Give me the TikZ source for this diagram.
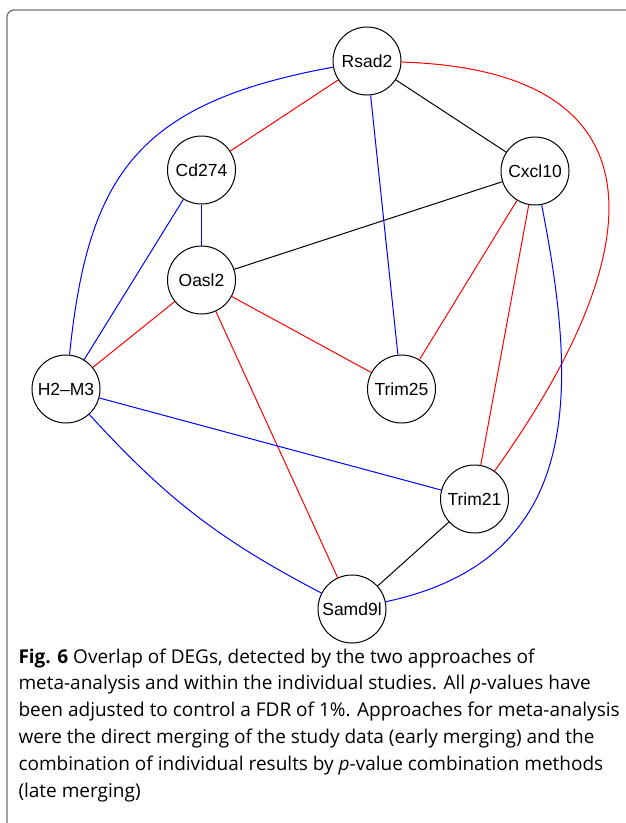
\documentclass[tikz,border=0pt]{standalone}
\usepackage{fontspec}
\setmainfont{Open Sans}
\newfontfamily\genefont{Liberation Sans}

\begin{document}
\begin{tikzpicture}[x=1pt, y=-1pt, line width=1pt,
    gene/.style={circle, draw=black, fill=white, minimum size=68pt, inner sep=0pt, font=\genefont\fontsize{17.5}{20}\selectfont},
    boxline/.style={draw=black!55, line width=1.3pt, rounded corners=7pt}]

  \useasboundingbox (0,0) rectangle (626,823);

  % ================= outer frame =================
  \begin{scope}
    \clip (0,0) rectangle (626,823);
    \draw[boxline] (680,10) -| (7,880);
  \end{scope}

  % ================= genes =================
  \node[gene] (rsad2) at (367,61) {Rsad2};
  \node[gene] (cd274) at (201.5,170) {Cd274};
  \node[gene] (cxcl10) at (535,171) {Cxcl10};
  \node[gene] (oasl2) at (201.5,280) {Oasl2};
  \node[gene] (h2m3) at (66,389) {H2–M3};
  \node[gene] (trim25) at (401.5,389) {Trim25};
  \node[gene] (trim21) at (474.5,499) {Trim21};
  \node[gene] (samd9l) at (352,609) {Samd9l};

  % ================= edges =================
  % black
  \draw[black] (rsad2) -- (cxcl10);
  \draw[black] (cxcl10) -- (oasl2);
  \draw[black] (trim21) -- (samd9l);
  % red
  \draw[red] (rsad2) -- (cd274);
  \draw[red] (oasl2) -- (h2m3);
  \draw[red] (oasl2) -- (trim25);
  \draw[red] (oasl2) -- (samd9l);
  \draw[red] (cxcl10) -- (trim25);
  \draw[red] (cxcl10) -- (trim21);
  \draw[red] (rsad2) .. controls (660,70) and (660,240) .. (trim21);
  % blue
  \draw[blue] (rsad2) -- (trim25);
  \draw[blue] (cd274) -- (oasl2);
  \draw[blue] (cd274) -- (h2m3);
  \draw[blue] (h2m3) -- (trim21);
  \draw[blue] (rsad2) .. controls (136,103) and (88,176) .. (h2m3);
  \draw[blue] (h2m3) to[bend right=10] (samd9l);
  \draw[blue] (cxcl10) .. controls (580,400) and (580,560) .. (samd9l);

  % ================= caption =================
  \node[anchor=north west, inner sep=0pt, align=left, font=\fontsize{19}{26.8}\selectfont] (caption) at (18,648)
    {\textbf{Fig. 6} Overlap of DEGs, detected by the two approaches of\\
     meta-analysis and within the individual studies. All \textit{p}-values have\\
     been adjusted to control a FDR of 1\%. Approaches for meta-analysis\\
     were the direct merging of the study data (early merging) and the\\
     combination of individual results by \textit{p}-value combination methods\\
     (late merging)};

\end{tikzpicture}
\end{document}
